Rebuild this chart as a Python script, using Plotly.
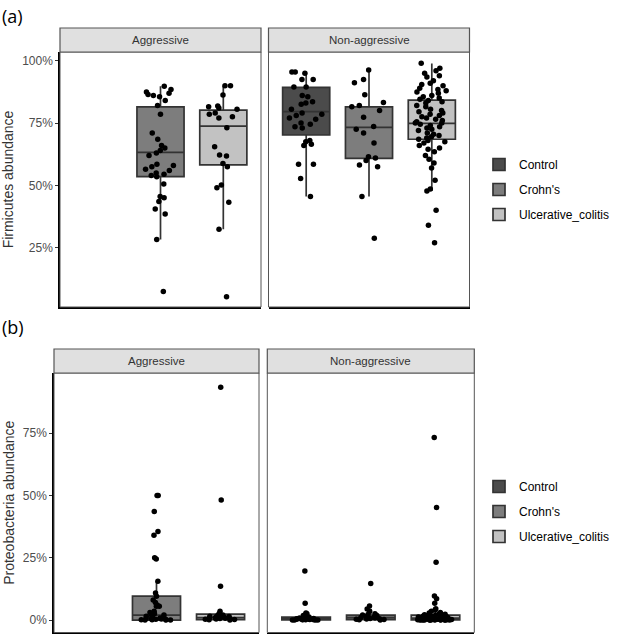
import plotly.graph_objects as go

W, H = 622, 634

categories = ["Control", "Crohn's", "Ulcerative_colitis"]
facets = ["Aggressive", "Non-aggressive"]
fill_colors = {"Control": "#4b4b4b", "Crohn's": "#7d7d7d", "Ulcerative_colitis": "#c2c2c2"}

# ---------- Panel (a): Firmicutes abundance (%) ----------
firm_agg_crohns = [89.8, 88.5, 87.5, 87, 86.5, 86, 85.5, 84, 82, 78.5, 71, 68.5, 66, 65, 64, 63, 62,
                   58.5, 58, 57.5, 56.5, 56, 55, 54.5, 54, 53.5, 50.5, 45.5, 45, 43.5, 40.5, 38.5, 28.3, 7.4]
firm_agg_uc = [90, 90, 86.2, 81.8, 81.5, 81, 80.5, 79, 78.5, 77.5, 77, 73.1, 65.5, 62.2, 61.8, 58.8,
               57.5, 50.1, 49, 43.2, 32.4, 5.3]
firm_non_control = [95.5, 95.5, 95, 92.5, 92.5, 89.5, 89.5, 86, 85.5, 83.5, 83, 82.5, 80.5, 79, 78.5,
                    78, 77, 76.5, 75, 74.5, 73.5, 73, 68, 67.5, 66.5, 66, 58.5, 58.5, 52.8, 45.5]
firm_non_crohns = [96.3, 92.5, 91.2, 86.3, 83.2, 82, 81.5, 80, 77.3, 73.6, 72.5, 71, 67, 61.5, 61,
                   60, 58.2, 57.5, 45.5, 28.8]
firm_non_uc = [99, 97, 96, 95, 94, 93.5, 92, 91, 90.5, 90, 89, 88.5, 88, 87.5, 87, 86, 85.5, 85,
               84.5, 84, 83.5, 83, 82, 81.5, 80.5, 80, 79.5, 79, 78.5, 78, 77.5, 77, 76.5, 76, 75.5,
               75, 75, 74.5, 74, 73.5, 73, 72.5, 72, 71, 70.5, 70, 69.5, 69, 68.5, 68, 67.5, 67, 66,
               65, 63.5, 62, 60.5, 59, 57, 52, 48.5, 47.7, 40, 34, 27, 64.5]

# box statistics [q1, median, q3, lower whisker, upper whisker]
firm_stats = {
    ("Aggressive", "Crohn's"): [53.5, 63.2, 81.5, 28.3, 89.8],
    ("Aggressive", "Ulcerative_colitis"): [58.2, 73.8, 80.2, 32.4, 90.0],
    ("Non-aggressive", "Control"): [70.2, 79.6, 89.3, 45.5, 95.5],
    ("Non-aggressive", "Crohn's"): [60.8, 73.3, 81.5, 45.5, 96.3],
    ("Non-aggressive", "Ulcerative_colitis"): [68.5, 74.9, 84.2, 47.7, 98.9],
}
firm_points = {
    ("Aggressive", "Crohn's"): firm_agg_crohns,
    ("Aggressive", "Ulcerative_colitis"): firm_agg_uc,
    ("Non-aggressive", "Control"): firm_non_control,
    ("Non-aggressive", "Crohn's"): firm_non_crohns,
    ("Non-aggressive", "Ulcerative_colitis"): firm_non_uc,
}

# ---------- Panel (b): Proteobacteria abundance (%) ----------
prot_agg_crohns = [50, 50, 43.5, 35.5, 34, 25, 24.5, 15.6, 10.8, 9.5, 8, 7, 6, 5.5, 5.5, 3.5, 3, 2.5,
                   2, 1.8, 1.5, 1.2, 1, 0.8, 0.6, 0.5, 0.4, 0.3, 0.2, 0.1, 0.1, 0, 0, 0]
prot_agg_uc = [93.4, 48.2, 13.6, 3.5, 2.5, 2.2, 2, 1.8, 1.5, 1.2, 1, 0.9, 0.8, 0.6, 0.5, 0.4, 0.3,
               0.2, 0.1, 0, 0.7, 1.4]
prot_non_control = [19.7, 6.7, 2.8, 2.5, 2.2, 2, 1.8, 1.5, 1.3, 1.2, 1, 0.9, 0.8, 0.7, 0.6, 0.5,
                    0.5, 0.4, 0.4, 0.3, 0.3, 0.2, 0.2, 0.1, 0.1, 0.1, 0, 0, 0, 0]
prot_non_crohns = [14.7, 5.6, 4.4, 3.5, 2.5, 2.2, 2, 1.8, 1.5, 1.2, 1, 0.9, 0.8, 0.6, 0.5, 0.4,
                   0.3, 0.2, 0.1, 0]
prot_non_uc = [73.2, 45.1, 23.2, 9.6, 8.5, 6.7, 4.5, 4, 3.5, 3, 2.8, 2.5, 2.3, 2.1, 2, 1.9, 1.8,
               1.7, 1.6, 1.5, 1.4, 1.3, 1.2, 1.1, 1, 1, 0.9, 0.9, 0.8, 0.8, 0.7, 0.7, 0.6, 0.6, 0.5,
               0.5, 0.5, 0.4, 0.4, 0.4, 0.3, 0.3, 0.3, 0.2, 0.2, 0.2, 0.2, 0.1, 0.1, 0.1, 0.1, 0,
               0, 0, 0, 0, 0, 0, 0, 0, 0.05, 0.15, 0.25, 0.35, 0.45, 0.55]

prot_stats = {
    ("Aggressive", "Crohn's"): [0.0, 2.0, 9.6, 0.0, 15.6],
    ("Aggressive", "Ulcerative_colitis"): [0.2, 1.0, 2.4, 0.0, 3.5],
    ("Non-aggressive", "Control"): [0.1, 0.5, 1.2, 0.0, 2.5],
    ("Non-aggressive", "Crohn's"): [0.2, 1.0, 2.0, 0.0, 4.5],
    ("Non-aggressive", "Ulcerative_colitis"): [0.1, 0.8, 2.0, 0.0, 4.8],
}
prot_points = {
    ("Aggressive", "Crohn's"): prot_agg_crohns,
    ("Aggressive", "Ulcerative_colitis"): prot_agg_uc,
    ("Non-aggressive", "Control"): prot_non_control,
    ("Non-aggressive", "Crohn's"): prot_non_crohns,
    ("Non-aggressive", "Ulcerative_colitis"): prot_non_uc,
}

a_ticks = [25, 50, 75, 100]
a_ticklabels = ["25%", "50%", "75%", "100%"]
b_ticks = [0, 25, 50, 75]
b_ticklabels = ["0%", "25%", "50%", "75%"]

FONT = "Liberation Sans, Arial, sans-serif"
fig = go.Figure()


def add_panel(stats, points, axes, legend_name):
    shown = set()
    for (facet, cat), s in stats.items():
        xa, ya = axes[facet]
        show = cat not in shown
        shown.add(cat)
        fig.add_trace(go.Box(
            x=[cat], q1=[s[0]], median=[s[1]], q3=[s[2]], lowerfence=[s[3]], upperfence=[s[4]],
            name=cat, fillcolor=fill_colors[cat], line=dict(color="#333333", width=1.7),
            width=0.75, whiskerwidth=0, boxpoints=False, xaxis=xa, yaxis=ya,
            showlegend=show, legend=legend_name, legendgroup=legend_name + cat,
            legendrank=categories.index(cat) + 1,
        ))
    for (facet, cat), vals in points.items():
        xa, ya = axes[facet]
        fig.add_trace(go.Box(
            x=[cat] * len(vals), y=vals, name=cat, boxpoints="all", jitter=0.75, pointpos=0,
            width=0.75, fillcolor="rgba(0,0,0,0)", line=dict(color="rgba(0,0,0,0)", width=0),
            marker=dict(color="black", size=5.5), xaxis=xa, yaxis=ya, showlegend=False,
            hoveron="points",
        ))


add_panel(firm_stats, firm_points, {"Aggressive": ("x", "y"), "Non-aggressive": ("x2", "y2")}, "legend")
add_panel(prot_stats, prot_points, {"Aggressive": ("x3", "y3"), "Non-aggressive": ("x4", "y4")}, "legend2")


def px_x(p):
    return p / W


def px_y(p):
    return 1 - p / H


xdoms = {
    "xaxis": [60, 261], "xaxis2": [268.5, 469.5],
    "xaxis3": [54, 259], "xaxis4": [267.3, 474.3],
}
ya_dom = [px_y(307), px_y(52)]
yb_dom = [px_y(632.5), px_y(373)]

xcommon = dict(type="category", categoryorder="array", categoryarray=categories,
               range=[-0.6, 2.6], showticklabels=False, ticks="", showgrid=False, zeroline=False,
               showline=True, linecolor="black", linewidth=1.5, mirror=False, fixedrange=True)
anchors = {"xaxis": "y", "xaxis2": "y2", "xaxis3": "y3", "xaxis4": "y4"}
layout_axes = {}
for k, (a, b) in xdoms.items():
    layout_axes[k] = dict(xcommon, domain=[px_x(a), px_x(b)], anchor=anchors[k])

ycommon = dict(showgrid=False, zeroline=False, ticks="outside", ticklen=3, tickcolor="#333333",
               tickwidth=1, tickmode="array", tickfont=dict(family=FONT, size=12, color="#4d4d4d"),
               showline=True, linecolor="black", linewidth=1.5)
layout_axes["yaxis"] = dict(ycommon, domain=ya_dom, anchor="x", range=[1.2, 103.5],
                            tickvals=a_ticks, ticktext=a_ticklabels,
                            title=dict(text="Firmicutes abundance", standoff=5,
                                       font=dict(family=FONT, size=14, color="#333333")))
layout_axes["yaxis2"] = dict(domain=ya_dom, anchor="x2", range=[1.2, 103.5], showticklabels=False,
                             showgrid=False, zeroline=False, ticks="")
layout_axes["yaxis3"] = dict(ycommon, domain=yb_dom, anchor="x3", range=[-5.0, 99.1],
                             tickvals=b_ticks, ticktext=b_ticklabels,
                             title=dict(text="Proteobacteria abundance", standoff=5,
                                        font=dict(family=FONT, size=14, color="#333333")))
layout_axes["yaxis4"] = dict(domain=yb_dom, anchor="x4", range=[-5.0, 99.1], showticklabels=False,
                             showgrid=False, zeroline=False, ticks="")

shapes = []
annotations = []
strip_rows = [(["x", "x2"], 28, 52, 307), (["x3", "x4"], 349, 373, 632.5)]
yrefs = {"x": "y", "x2": "y2", "x3": "y3", "x4": "y4"}
for xs, top, bot, pbot in strip_rows:
    ph = pbot - bot
    for xr, facet in zip(xs, facets):
        yr = yrefs[xr] + " domain"
        shapes.append(dict(type="rect", xref=xr + " domain", yref=yr,
                           x0=0, x1=1, y0=0, y1=1, line=dict(color="#555555", width=1),
                           layer="above"))
        shapes.append(dict(type="rect", xref=xr + " domain", yref=yr, x0=0, x1=1,
                           y0=1, y1=1 + (bot - top) / ph, fillcolor="#e0e0e0",
                           line=dict(color="#555555", width=1.2)))
        annotations.append(dict(text=facet, xref=xr + " domain", yref=yr, x=0.5,
                                y=1 + (bot - top) / 2 / ph, xanchor="center", yanchor="middle",
                                showarrow=False,
                                font=dict(family=FONT, size=11.5, color="#333333")))

annotations.append(dict(text="(a)", xref="paper", yref="paper", x=0, y=px_y(16), xanchor="left",
                        yanchor="middle", showarrow=False,
                        font=dict(family="Open Sans, sans-serif", size=18, color="black")))
annotations.append(dict(text="(b)", xref="paper", yref="paper", x=0, y=px_y(327), xanchor="left",
                        yanchor="middle", showarrow=False,
                        font=dict(family="Open Sans, sans-serif", size=18, color="black")))

legend_common = dict(xanchor="left", yanchor="top", bgcolor="rgba(0,0,0,0)",
                     font=dict(family=FONT, size=12, color="black"), tracegroupgap=6,
                     itemclick=False, itemdoubleclick=False)

fig.update_layout(
    width=W, height=H, margin=dict(l=0, r=0, t=0, b=0),
    paper_bgcolor="white", plot_bgcolor="white",
    boxmode="overlay", showlegend=True,
    shapes=shapes, annotations=annotations,
    legend=dict(legend_common, x=px_x(479), y=px_y(150)),
    legend2=dict(legend_common, x=px_x(479), y=px_y(472)),
    **layout_axes,
)

fig.write_html("out.html", config={"displayModeBar": False},
               post_script="document.body.style.margin='0px';")
